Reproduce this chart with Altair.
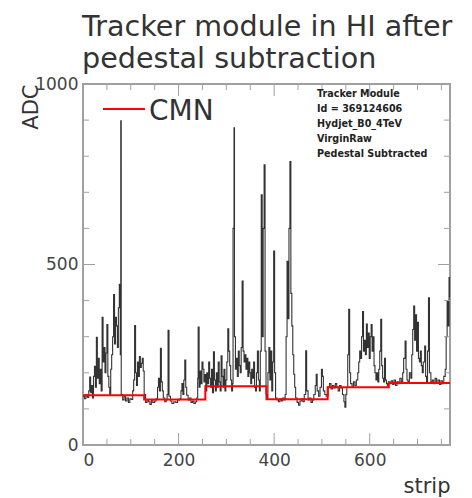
import altair as alt
import pandas as pd

# ---- data ----
strips = [0, 3, 6, 9, 12, 14, 16, 18, 20, 22, 24, 26, 28, 30, 32, 34, 36, 38, 40, 42, 44, 46, 48, 50,
          52, 54, 56, 58, 60, 62, 64, 66, 68, 70, 72, 74, 76, 78, 79, 80, 83, 86, 89, 92, 95, 98, 101,
          104, 106, 108, 110, 112, 114, 116, 118, 120, 122, 124, 126, 128,
          131, 134, 137, 140, 143, 146, 150, 153, 156, 158, 160, 162, 164, 166, 168, 171, 174, 176, 178,
          180, 183, 186, 190, 194, 198, 202, 205, 207, 209, 211, 213, 215, 217, 220, 223, 226, 229, 232,
          235, 238, 240, 241, 243, 245, 247, 249, 251, 253, 255,
          257, 259, 261, 263, 265, 267, 269, 271, 273, 275, 277, 279, 281, 283, 285, 287, 289, 291, 293,
          295, 297, 299, 301, 303, 305, 307, 309, 311, 313, 314, 316, 317, 319, 321, 323, 325, 327, 329,
          331, 333, 335, 337, 339, 341, 343, 345, 347, 349, 351, 353, 355, 357, 359, 361, 363, 365, 367,
          369, 371, 373, 375, 377, 379, 381, 383,
          385, 387, 389, 391, 393, 395, 397, 399, 401, 403, 406, 409, 412, 415, 418, 421, 423, 425, 427,
          429, 431, 433, 435, 437, 439, 441, 443, 445, 448, 451, 454, 457, 460, 463, 466, 468, 471, 474,
          477, 480, 483, 486, 488, 490, 493, 496, 499, 501, 503, 506, 509,
          513, 516, 519, 522, 525, 528, 531, 534, 537, 540, 543, 546, 548, 550, 552, 554, 556, 558, 560,
          563, 566, 569, 572, 575, 577, 579, 581, 583, 585, 587, 589, 591, 593, 595, 597, 599, 601, 603,
          605, 607, 609, 611, 613, 615, 617, 619, 621, 623, 625, 627, 629, 631, 633, 635, 637, 639,
          642, 645, 648, 651, 654, 657, 660, 663, 666, 669, 671, 674, 676, 678, 680, 683, 686, 688, 690,
          692, 694, 696, 698, 700, 702, 704, 706, 708, 710, 712, 715, 717, 719, 721, 723, 725, 728, 731,
          734, 737, 740, 743, 746, 749, 752, 755, 758, 760, 762, 764, 766, 767]
adc = [135, 128, 140, 132, 150, 188, 145, 165, 130, 190, 218, 160, 298, 185, 240, 170, 210, 150, 354, 230,
       270, 200, 255, 334, 190, 160, 140, 210, 250, 300, 417, 280, 354, 330, 270, 380, 445, 250, 898, 140,
       125, 135, 122, 130, 118, 128, 126, 150, 180, 331, 200, 165, 230, 190, 245, 215, 226, 240, 205, 140,
       118, 126, 120, 112, 125, 118, 122, 128, 160, 185, 150, 268, 175, 150, 130, 120, 125, 140, 318,
       135, 122, 115, 120, 118, 125, 128, 150, 170, 140, 180, 235, 160, 138, 125, 130, 118, 122, 115,
       120, 130, 185, 327, 160, 205, 170, 230, 210, 175, 195,
       150, 200, 170, 230, 185, 160, 210, 145, 258, 180, 150, 200, 160, 230, 175, 150, 247, 190, 160,
       210, 150, 180, 230, 322, 260, 220, 180, 150, 170, 600, 879, 300, 210, 240, 190, 260, 220, 200,
       270, 454, 260, 230, 250, 210, 240, 190, 230, 200, 170, 210, 185, 230, 160, 150, 200, 260, 180,
       150, 260, 693, 300, 600, 776, 260, 140,
       130, 200, 270, 180, 260, 150, 230, 537, 200, 130, 125, 120, 128, 122, 130, 125, 140, 300, 509,
       350, 600, 785, 420, 330, 250, 196, 160, 130, 118, 110, 122, 128, 120, 140, 261, 150, 125, 130,
       118, 125, 140, 165, 196, 150, 135, 160, 210, 190, 150, 140, 135,
       160, 170, 155, 165, 158, 170, 160, 150, 165, 158, 140, 120, 105, 140, 160, 250, 376, 200, 170,
       160, 175, 165, 180, 200, 230, 260, 240, 300, 370, 260, 290, 250, 335, 270, 310, 240, 300, 334,
       260, 300, 220, 200, 180, 200, 175, 210, 260, 348, 220, 185, 175, 240, 180, 170, 165, 175,
       170, 178, 168, 180, 165, 175, 170, 185, 175, 200, 240, 288, 210, 180, 175, 200, 185, 250, 320,
       385, 290, 361, 260, 340, 240, 230, 260, 220, 200, 230, 274, 190, 175, 260, 408, 200, 175, 180,
       170, 185, 172, 180, 168, 178, 170, 190, 210, 300, 400, 330, 464, 410]

cmn_edges = [0, 128, 256, 384, 512, 640, 768]
cmn_vals = [138, 126, 163, 127, 160, 172]

x_major = [0, 200, 400, 600]
x_minor = [50, 100, 150, 250, 300, 350, 450, 500, 550, 650, 700, 750]
y_major = [0, 500, 1000]
y_minor = [100, 200, 300, 400, 600, 700, 800, 900]

title_lines = ["Tracker module in HI after", "pedestal subtraction"]
info_lines = ["Tracker Module", "Id = 369124606", "Hydjet_B0_4TeV", "VirginRaw", "Pedestal Subtracted"]

# ---- layout ----
W, H = 367, 361
FONT = "DejaVu Sans"
GRAY = "#a0a0a0"
TXT = "#333333"

xs = alt.Scale(domain=[0, 768], nice=False, zero=False)
ys = alt.Scale(domain=[0, 1000], nice=False, zero=False)

sig = pd.DataFrame({"strip": strips, "adc": adc})
cmn = pd.DataFrame({"strip": cmn_edges, "adc": cmn_vals + [cmn_vals[-1]]})

line = alt.Chart(sig).mark_line(color="#333333", strokeWidth=1.1, interpolate="step-after").encode(
    x=alt.X("strip:Q", scale=xs,
            axis=alt.Axis(values=x_major, format="d", ticks=False, domain=False, grid=False,
                          labelFontSize=17, labelFont=FONT, labelColor="#444", labelPadding=7,
                          title="strip", titleFont=FONT, titleFontSize=21, titleFontWeight="normal",
                          titleColor=TXT, titleAnchor="end", titlePadding=7)),
    y=alt.Y("adc:Q", scale=ys,
            axis=alt.Axis(values=y_major, format="d", ticks=False, domain=False, grid=False,
                          labelFontSize=17, labelFont=FONT, labelColor="#444", labelPadding=5,
                          title="ADC", titleFont=FONT, titleFontSize=21, titleFontWeight="normal",
                          titleColor=TXT, titleAnchor="end", titleAngle=270, titleX=-52, titleY=0,
                          titleAlign="right", titleBaseline="middle")),
)

red = alt.Chart(cmn).mark_line(color="#ff0000", strokeWidth=2, interpolate="step-after").encode(
    x=alt.X("strip:Q", scale=xs), y=alt.Y("adc:Q", scale=ys))


def xticks(vals, length):
    d = pd.DataFrame({"t": vals})
    b = alt.Chart(d).mark_rule(color=GRAY, strokeWidth=1).encode(
        x=alt.X("t:Q", scale=xs), y=alt.value(H), y2=alt.value(H - length))
    t = alt.Chart(d).mark_rule(color=GRAY, strokeWidth=1).encode(
        x=alt.X("t:Q", scale=xs), y=alt.value(0), y2=alt.value(length))
    return [b, t]


def yticks(vals, length):
    d = pd.DataFrame({"t": vals})
    l = alt.Chart(d).mark_rule(color=GRAY, strokeWidth=1).encode(
        y=alt.Y("t:Q", scale=ys), x=alt.value(0), x2=alt.value(length))
    r = alt.Chart(d).mark_rule(color=GRAY, strokeWidth=1).encode(
        y=alt.Y("t:Q", scale=ys), x=alt.value(W), x2=alt.value(W - length))
    return [l, r]


ticks = xticks(x_major, 12) + xticks(x_minor, 6) + yticks(y_major, 12) + yticks(y_minor, 6)

title_df = pd.DataFrame({"t": title_lines, "yy": [-48, -16]})
title = alt.Chart(title_df).mark_text(align="left", baseline="alphabetic", font=FONT, fontSize=28.6,
                                      color=TXT).encode(
    x=alt.value(-1), y=alt.Y("yy:Q", scale=None), text="t:N")

leg_line = alt.Chart(pd.DataFrame({"k": ["CMN"]})).mark_rule(color="#ff0000", strokeWidth=2).encode(
    x=alt.value(20), x2=alt.value(62), y=alt.value(25))
leg_text = alt.Chart(pd.DataFrame({"k": ["CMN"]})).mark_text(
    align="left", baseline="middle", font=FONT, fontSize=28, color=TXT).encode(
    x=alt.value(66), y=alt.value(28), text="k:N")

info_df = pd.DataFrame({"t": info_lines, "yy": [13, 28, 43, 58, 73]})
info = alt.Chart(info_df).mark_text(align="left", baseline="alphabetic", font=FONT,
                                    fontSize=9.6, fontWeight="bold", color="#222").encode(
    x=alt.value(234), y=alt.Y("yy:Q", scale=None), text="t:N")

chart = alt.layer(line, red, *ticks, title, leg_line, leg_text, info).properties(
    width=W, height=H,
    autosize=alt.AutoSizeParams(type="none"),
    padding={"left": 83, "top": 84, "right": 22, "bottom": 53},
    background="white",
).configure_view(stroke=GRAY, strokeWidth=2)

chart.save("out.html", embed_options={"renderer": "svg", "actions": False})
